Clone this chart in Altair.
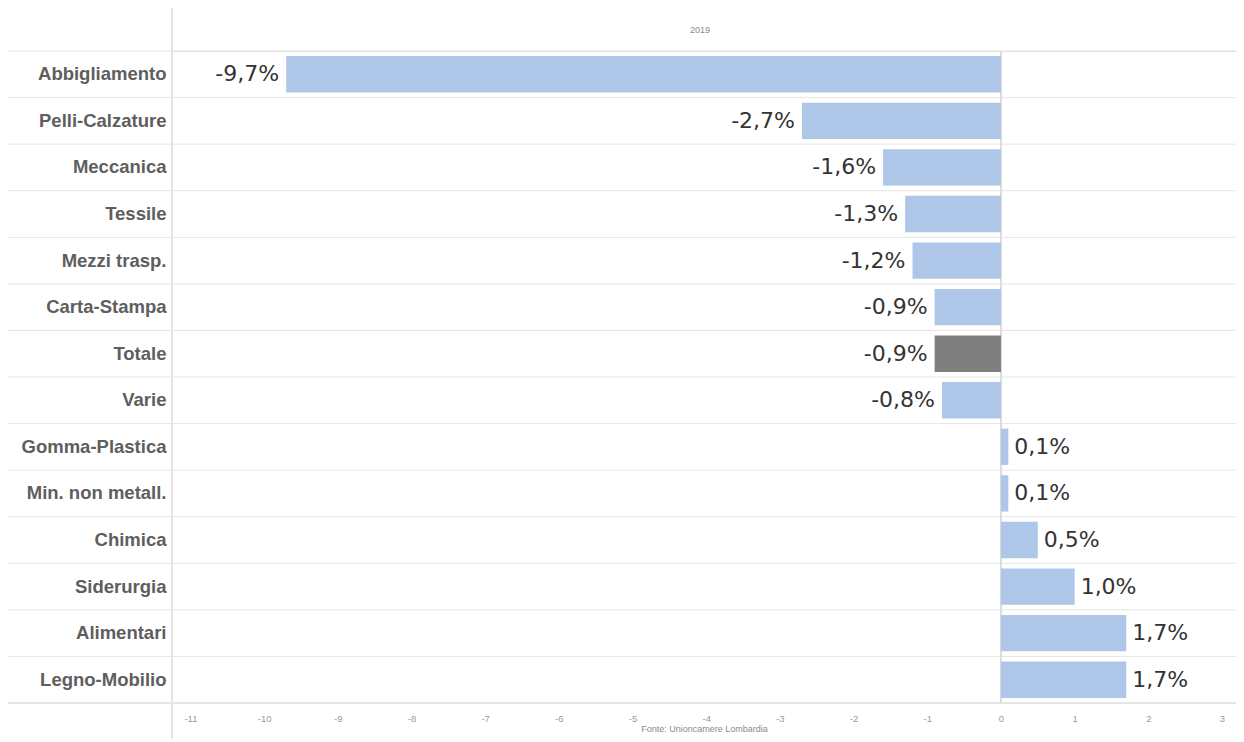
import altair as alt
import pandas as pd

categories = ["Abbigliamento", "Pelli-Calzature", "Meccanica", "Tessile", "Mezzi trasp.",
              "Carta-Stampa", "Totale", "Varie", "Gomma-Plastica", "Min. non metall.",
              "Chimica", "Siderurgia", "Alimentari", "Legno-Mobilio"]
values = [-9.7, -2.7, -1.6, -1.3, -1.2, -0.9, -0.9, -0.8, 0.1, 0.1, 0.5, 1.0, 1.7, 1.7]
x_ticks = [-11, -10, -9, -8, -7, -6, -5, -4, -3, -2, -1, 0, 1, 2, 3]
year_label = "2019"
source_label = "Fonte: Unioncamere Lombardia"

df = pd.DataFrame({
    "settore": categories,
    "valore": values,
    "etichetta": [f"{v:.1f}%".replace(".", ",") for v in values],
    "gruppo": ["Totale" if c == "Totale" else "Settore" for c in categories],
})

W, H = 1064, 652
step = H / len(categories)
pad_in, pad_out = 0.22, 0.11

xscale = alt.Scale(domain=[-11.25, 3.19], nice=False, zero=False)
yscale = alt.Scale(domain=categories, paddingInner=pad_in, paddingOuter=pad_out)

yaxis = alt.Axis(title=None, labelFont="Liberation Sans", labelFontSize=18.5,
                 labelFontWeight="bold", labelColor="#5e5e5e", labelPadding=6,
                 ticks=False, domain=False, grid=False, labelLimit=200)

base = alt.Chart(df)

rows = base.mark_rule(color="#e6e6e6", strokeWidth=1, yOffset=-pad_out * step).encode(
    y=alt.Y("settore:N", scale=yscale, sort=categories, bandPosition=0, axis=yaxis),
    x=alt.value(-164),
    x2=alt.value(W),
)
bottom_rule = base.mark_rule(color="#e6e6e6").encode(
    y=alt.value(H), x=alt.value(-164), x2=alt.value(W)
)
sep_rule = base.mark_rule(color="#e3e3e3").encode(
    x=alt.value(0), y=alt.value(-43), y2=alt.value(H + 40)
)
zero_rule = base.mark_rule(color="#dcdcdc").encode(
    x=alt.datum(0), y=alt.value(0), y2=alt.value(H)
)

bars = base.mark_bar().encode(
    y=alt.Y("settore:N", scale=yscale, sort=categories, axis=yaxis),
    x=alt.X("valore:Q", scale=xscale,
            axis=alt.Axis(values=x_ticks, title=source_label, labelFontSize=9.5,
                          labelColor="#9a9a9a", labelFont="Liberation Sans",
                          labelExpr="'' + datum.value",
                          labelPadding=10, ticks=False, domain=False, grid=False,
                          titleFontSize=9, titleFontWeight="normal", titleColor="#8a8a8a",
                          titleFont="Liberation Sans", titlePadding=2)),
    color=alt.Color("gruppo:N", scale=alt.Scale(domain=["Settore", "Totale"],
                                                 range=["#aec7e8", "#7f7f7f"]), legend=None),
)

txt_neg = base.transform_filter(alt.datum.valore < 0).mark_text(
    align="right", baseline="middle", dx=-7, fontSize=22, font="DejaVu Sans", color="#333333"
).encode(y=alt.Y("settore:N", scale=yscale, sort=categories),
         x=alt.X("valore:Q", scale=xscale), text="etichetta:N")

txt_pos = base.transform_filter(alt.datum.valore >= 0).mark_text(
    align="left", baseline="middle", dx=6, fontSize=22, font="DejaVu Sans", color="#333333"
).encode(y=alt.Y("settore:N", scale=yscale, sort=categories),
         x=alt.X("valore:Q", scale=xscale), text="etichetta:N")

header = alt.Chart(pd.DataFrame({"t": [year_label]})).mark_text(
    fontSize=9, color="#8a8a8a", font="Liberation Sans", baseline="middle", align="center"
).encode(x=alt.value(W / 2 - 4), y=alt.value(-21), text="t:N")

chart = alt.layer(rows, bottom_rule, sep_rule, zero_rule, bars, txt_neg, txt_pos, header).properties(
    width=W, height=H,
    autosize=alt.AutoSizeParams(type="none"),
    padding={"left": 164, "top": 43, "right": 0, "bottom": 36},
).configure_view(stroke=None).configure(background="white")

chart.save("out.html", embed_options={"renderer": "svg", "actions": False})
